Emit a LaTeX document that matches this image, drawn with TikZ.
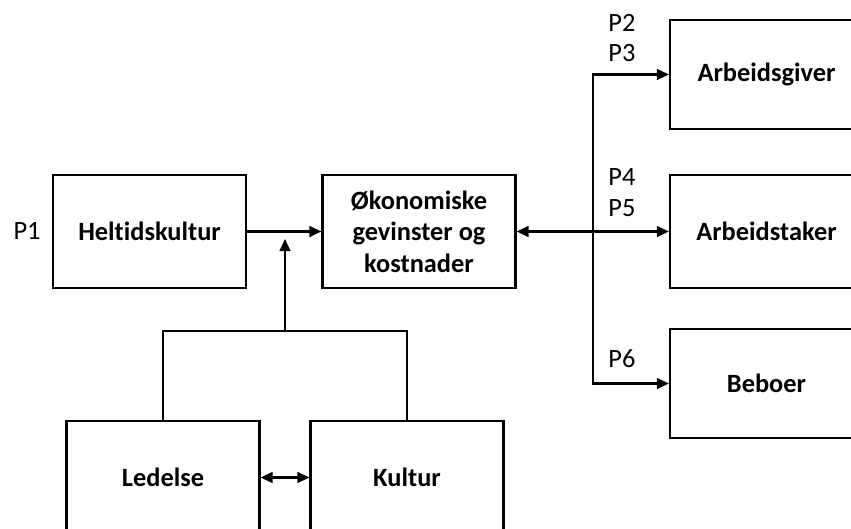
\documentclass[tikz,border=0pt]{standalone}
\usepackage{fontspec}
\setmainfont[Ligatures=NoCommon]{Carlito}
\usepackage{tikz}
\usetikzlibrary{arrows.meta,positioning,calc}

\tikzset{
  box/.style={draw,line width=1.6pt,minimum width=144.75pt,minimum height=84.75pt,
    align=center,font=\fontsize{19.8}{23.5}\selectfont\bfseries},
  plabel/.style={font=\fontsize{19.8}{23.5}\selectfont},
  conn/.style={line width=1.6pt},
  arr/.style={conn,-{Triangle[length=9pt,width=8pt]}},
  darr/.style={conn,{Triangle[length=9pt,width=8pt]}-{Triangle[length=9pt,width=8pt]}}
}

\begin{document}
\begin{tikzpicture}[x=0.75pt,y=-0.75pt]
    \clip (0,0) rectangle (851,529);

    % Left boxes
    \node[box] (helt) at (149.5,231.5) {Heltidskultur};
    \node[box] (okon) at (419,231.5) {Økonomiske\\gevinster og\\kostnader};
    \node[plabel,left=5pt of helt] {P1};

    % Lower boxes (cut by the page)
    \node[box] (led) at (163,477.5) {Ledelse};
    \node[box] (kul) at (407,477.5) {Kultur};

    % Right boxes (cut by the page)
    \node[box,minimum height=81.75pt] (arbg) at (766.5,74.5) {Arbeidsgiver};
    \node[box] (arbt) at (766.5,231.5) {Arbeidstaker};
    \node[box,minimum height=81.75pt] (beb) at (766.5,383.5) {Beboer};

    % Heltidskultur to gains
    \draw[arr] (helt) -- (okon);

    % Ledelse and Kultur join
    \coordinate (join) at (285,331);
    \coordinate (tip) at (285,239);
    \draw[conn] (led.north) |- (join) -| (kul.north);
    \draw[arr] (join) -- (tip);
    \draw[darr] (led) -- (kul);

    % Branch to the right
    \coordinate (split) at (593,231.5);
    \draw[darr] (okon) -- (arbt);
    \draw[arr] (split) |- (arbg.west);
    \draw[arr] (split) |- (beb.west);

    % Labels
    \node[plabel] (p2) at (622,23) {P2};
    \node[plabel] (p3) at (622,53) {P3};
    \node[plabel] (p4) at (622,177) {P4};
    \node[plabel] (p5) at (622,208) {P5};
    \node[plabel] (p6) at (622,359) {P6};
\end{tikzpicture}
\end{document}
